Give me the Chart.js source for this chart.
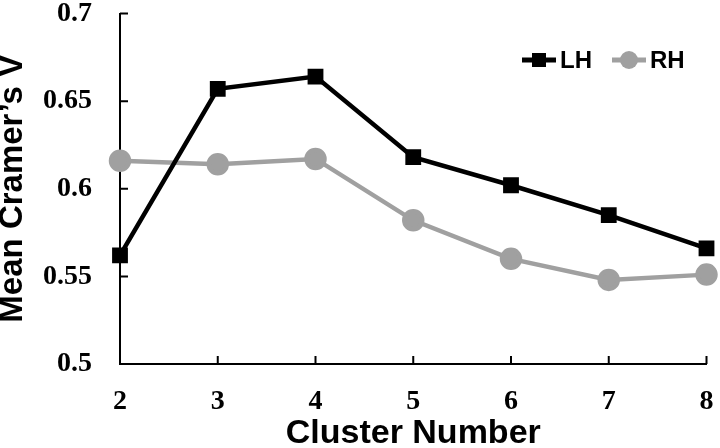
<!DOCTYPE html>
<html>
<head>
<meta charset="utf-8">
<script src="https://cdn.jsdelivr.net/npm/chart.js@4"></script>
<style>
 html, body { margin: 0; padding: 0; background: #fff; }
 #wrap { width: 720px; height: 448px; }
</style>
</head>
<body>
<div id="wrap"><canvas id="cramerChart" width="720" height="448"></canvas></div>
<script>
const clusters = ['2', '3', '4', '5', '6', '7', '8'];
const lhValues = [0.562, 0.657, 0.664, 0.618, 0.602, 0.585, 0.566];
const rhValues = [0.616, 0.614, 0.617, 0.582, 0.560, 0.548, 0.551];
const yTicks = [0.5, 0.55, 0.6, 0.65, 0.7];

const lhColor = '#000000';
const rhColor = '#a0a0a0';
const sansBold = { family: '"Liberation Sans", Arial, sans-serif', weight: 'bold' };
const serifBold = { family: '"Liberation Serif", "Times New Roman", serif', weight: 'bold' };

// ticks pointing into the plot, like the original figure
const inwardTicks = {
 id: 'inwardTicks',
 afterDatasetsDraw(chart) {
  const { ctx, chartArea, scales } = chart;
  ctx.save();
  ctx.strokeStyle = '#000';
  ctx.lineWidth = 2;
  ctx.beginPath();
  scales.y.ticks.forEach((t, i) => {
   const y = scales.y.getPixelForTick(i);
   ctx.moveTo(chartArea.left, y);
   ctx.lineTo(chartArea.left + 8, y);
  });
  scales.x.ticks.forEach((t, i) => {
   const x = scales.x.getPixelForTick(i);
   ctx.moveTo(x, chartArea.bottom);
   ctx.lineTo(x, chartArea.bottom - 8);
  });
  ctx.stroke();
  ctx.restore();
 }
};

// legend drawn as line + marker, top right inside the plot
const lineLegend = {
 id: 'lineLegend',
 afterDraw(chart) {
  const { ctx } = chart;
  const items = [
   { ds: chart.data.datasets[0], x: 522 },
   { ds: chart.data.datasets[1], x: 612 }
  ];
  const y = 60;
  ctx.save();
  ctx.font = 'bold 24px "Liberation Sans", Arial, sans-serif';
  ctx.textBaseline = 'middle';
  items.forEach(({ ds, x }) => {
   ctx.strokeStyle = ds.borderColor;
   ctx.fillStyle = ds.borderColor;
   ctx.lineWidth = 5;
   ctx.beginPath();
   ctx.moveTo(x, y);
   ctx.lineTo(x + 34, y);
   ctx.stroke();
   if (ds.pointStyle === 'rect') {
    ctx.fillRect(x + 17 - 7, y - 7, 14, 14);
   } else {
    ctx.beginPath();
    ctx.arc(x + 17, y, 9, 0, Math.PI * 2);
    ctx.fill();
   }
   ctx.fillStyle = '#000';
   ctx.fillText(ds.label, x + 38, y + 1);
  });
  ctx.restore();
 }
};

new Chart(document.getElementById('cramerChart').getContext('2d'), {
 type: 'line',
 data: {
  labels: clusters,
  datasets: [
   {
    label: 'LH',
    data: lhValues,
    borderColor: lhColor,
    backgroundColor: lhColor,
    borderWidth: 4.5,
    pointStyle: 'rect',
    pointRadius: 8,
    pointHoverRadius: 8,
    tension: 0,
    clip: false
   },
   {
    label: 'RH',
    data: rhValues,
    borderColor: rhColor,
    backgroundColor: rhColor,
    borderWidth: 4.5,
    pointStyle: 'circle',
    pointRadius: 9,
    pointHoverRadius: 9,
    tension: 0,
    clip: false
   }
  ]
 },
 options: {
  responsive: false,
  animation: false,
  layout: { padding: { top: 11, right: 12, left: 0, bottom: 0 } },
  plugins: {
   legend: { display: false },
   tooltip: { enabled: false }
  },
  scales: {
   x: {
    offset: false,
    grid: { display: false, drawTicks: false },
    border: { display: true, color: '#000', width: 2 },
    ticks: { color: '#000', padding: 21, maxRotation: 0, font: { ...serifBold, size: 28 } },
    title: {
     display: true,
     text: 'Cluster Number',
     color: '#000',
     padding: { top: 0, bottom: 0 },
     font: { ...sansBold, size: 34, lineHeight: 0.85 }
    },
    afterFit(scale) {
     scale.height = 84;
     scale.paddingLeft = 0;
     scale.paddingRight = 0;
    }
   },
   y: {
    min: 0.5,
    max: 0.7,
    grid: { display: false, drawTicks: false },
    border: { display: true, color: '#000', width: 2 },
    afterBuildTicks(scale) { scale.ticks = yTicks.map(v => ({ value: v })); },
    ticks: {
     color: '#000',
     padding: 28,
     font: { ...serifBold, size: 28 },
     callback: v => String(Number(v.toFixed(2)))
    },
    title: {
     display: true,
     text: 'Mean Cramer\u2019s V',
     color: '#000',
     padding: { top: 0, bottom: 0 },
     font: { ...sansBold, size: 33, lineHeight: 0.8 }
    },
    afterFit(scale) {
     scale.width = 120;
     scale.paddingTop = 0;
     scale.paddingBottom = 0;
    }
   }
  }
 },
 plugins: [inwardTicks, lineLegend]
});
</script>
</body>
</html>
